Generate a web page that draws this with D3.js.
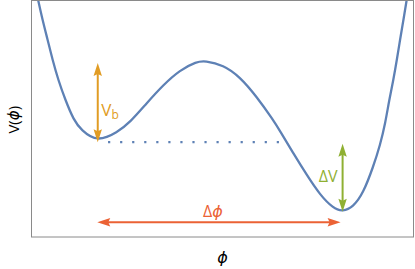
<!DOCTYPE html>
<html lang="en">
  <head>
    <meta charset="UTF-8" />
    <title>Double well potential</title>
    <script src="https://d3js.org/d3.v7.min.js"></script>
    <style>
      body { margin: 0; background: #fff; }
      text { font-family: 'Open Sans', 'DejaVu Sans', sans-serif; }
    </style>
  </head>
  <body>
    <div id="chart"></div>
    <script>
      // potential V(phi) (false vacuum at phi=0, true vacuum at phi=1)
      const phiValues = [-0.248, -0.241, -0.223, -0.202, -0.182, -0.159, -0.130, -0.096, -0.066, 0,
        0.083, 0.133, 0.201, 0.269, 0.337, 0.405, 0.439, 0.514, 0.581, 0.650, 0.717, 0.745,
        0.799, 0.854, 0.908, 0.962, 1.0, 1.044, 1.084, 1.125, 1.153, 1.174, 1.190, 1.207,
        1.221, 1.234, 1.248, 1.261, 1.267];
      const vValues = [1.858, 1.759, 1.511, 1.264, 1.016, 0.770, 0.522, 0.274, 0.151, 0,
        0.125, 0.244, 0.481, 0.708, 0.893, 0.996, 1.008, 0.955, 0.810, 0.563, 0.275, 0.139,
        -0.137, -0.406, -0.653, -0.818, -0.860, -0.798, -0.632, -0.303, -0.035, 0.234, 0.522, 0.770,
        1.016, 1.264, 1.511, 1.759, 1.858];
      const falseMin = { phi: 0, v: 0 };
      const trueMin = { phi: 1.0, v: -0.860 };
      const barrierTop = 0.98;
      const dotStart = 0.044, dotEnd = 0.735;

      const width = 415, height = 269;
      const margin = { top: 0.5, right: 1.5, bottom: 32, left: 31.5 };

      const svg = d3.select('#chart').append('svg')
        .attr('width', width).attr('height', height);

      const x = d3.scaleLinear().domain([-0.268, 1.289])
        .range([margin.left, width - margin.right]);
      const y = d3.scaleLinear().domain([-1.173, 1.753])
        .range([height - margin.bottom, margin.top]);

      const colors = { curve: '#5E81B5', vb: '#E19C24', dv: '#8FB032', dphi: '#EB6235' };

      svg.append('defs').append('clipPath').attr('id', 'plot')
        .append('rect')
        .attr('x', x.range()[0]).attr('y', y.range()[1])
        .attr('width', x.range()[1] - x.range()[0])
        .attr('height', y.range()[0] - y.range()[1]);

      const pts = phiValues.map((p, i) => [p, vValues[i]]);
      // B-spline through the read points smooths the reading noise
      const line = d3.line().x(d => x(d[0])).y(d => y(d[1])).curve(d3.curveBasis);

      // dotted level of the false vacuum
      svg.append('line')
        .attr('x1', x(dotStart)).attr('x2', x(dotEnd) + 2)
        .attr('y1', y(falseMin.v)).attr('y2', y(falseMin.v))
        .attr('stroke', colors.curve).attr('stroke-width', 2.2)
        .attr('stroke-dasharray', '2.2,9.85');

      svg.append('path')
        .attr('d', line(pts))
        .attr('clip-path', 'url(#plot)')
        .attr('fill', 'none')
        .attr('stroke', colors.curve)
        .attr('stroke-width', 2.3);

      // frame
      svg.append('rect')
        .attr('x', x.range()[0]).attr('y', y.range()[1])
        .attr('width', x.range()[1] - x.range()[0])
        .attr('height', y.range()[0] - y.range()[1])
        .attr('fill', 'none').attr('stroke', '#8a8a8a').attr('stroke-width', 1);

      // double-headed arrow between two points (pixels)
      function arrow(x1, y1, x2, y2, color) {
        const len = 13, half = 4.2, notch = 2;
        const ang = Math.atan2(y2 - y1, x2 - x1);
        const g = svg.append('g');
        const c = Math.cos(ang), s = Math.sin(ang);
        g.append('line')
          .attr('x1', x1 + c * len * 0.8).attr('y1', y1 + s * len * 0.8)
          .attr('x2', x2 - c * len * 0.8).attr('y2', y2 - s * len * 0.8)
          .attr('stroke', color).attr('stroke-width', 2);
        const head = (tx, ty, dir) => {
          const dc = c * dir, ds = s * dir;
          const bx = tx - dc * len, by = ty - ds * len;
          const nx = tx - dc * (len - notch), ny = ty - ds * (len - notch);
          return `M${tx},${ty}L${bx - ds * half},${by + dc * half}L${nx},${ny}L${bx + ds * half},${by - dc * half}Z`;
        };
        g.append('path').attr('d', head(x2, y2, 1)).attr('fill', color);
        g.append('path').attr('d', head(x1, y1, -1)).attr('fill', color);
      }

      arrow(x(falseMin.phi) + 0.5, y(barrierTop), x(falseMin.phi) + 0.5, y(falseMin.v), colors.vb);
      arrow(x(trueMin.phi), y(falseMin.v) + 1.5, x(trueMin.phi), y(trueMin.v), colors.dv);
      const arrowY = y(trueMin.v) + 10.5;
      arrow(x(falseMin.phi), arrowY, x(trueMin.phi) - 2, arrowY, colors.dphi);

      // labels
      const vb = svg.append('text')
        .attr('x', x(falseMin.phi) + 4).attr('y', 116)
        .attr('fill', colors.vb).attr('font-size', 17);
      vb.append('tspan').text('V');
      vb.append('tspan').attr('font-size', 12).attr('dy', 2.5).text('b');

      svg.append('text')
        .attr('x', x(trueMin.phi) - 5).attr('y', 182)
        .attr('text-anchor', 'end')
        .attr('fill', colors.dv).attr('font-size', 16)
        .text('ΔV');

      const dp = svg.append('text')
        .attr('x', 213).attr('y', 217)
        .attr('text-anchor', 'middle')
        .attr('fill', colors.dphi).attr('font-size', 16);
      dp.append('tspan').text('Δ');
      dp.append('tspan').attr('font-style', 'italic').text('ϕ');

      const yl = svg.append('text')
        .attr('transform', `translate(19,${(y.range()[0] + y.range()[1]) / 2 + 1}) rotate(-90)`)
        .attr('text-anchor', 'middle')
        .attr('font-size', 15);
      yl.append('tspan').text('V(');
      yl.append('tspan').attr('font-style', 'italic').text('ϕ');
      yl.append('tspan').text(')');

      svg.append('text')
        .attr('x', (x.range()[0] + x.range()[1]) / 2).attr('y', 263)
        .attr('text-anchor', 'middle')
        .attr('font-size', 16).attr('font-style', 'italic')
        .text('ϕ');
    </script>
  </body>
</html>
